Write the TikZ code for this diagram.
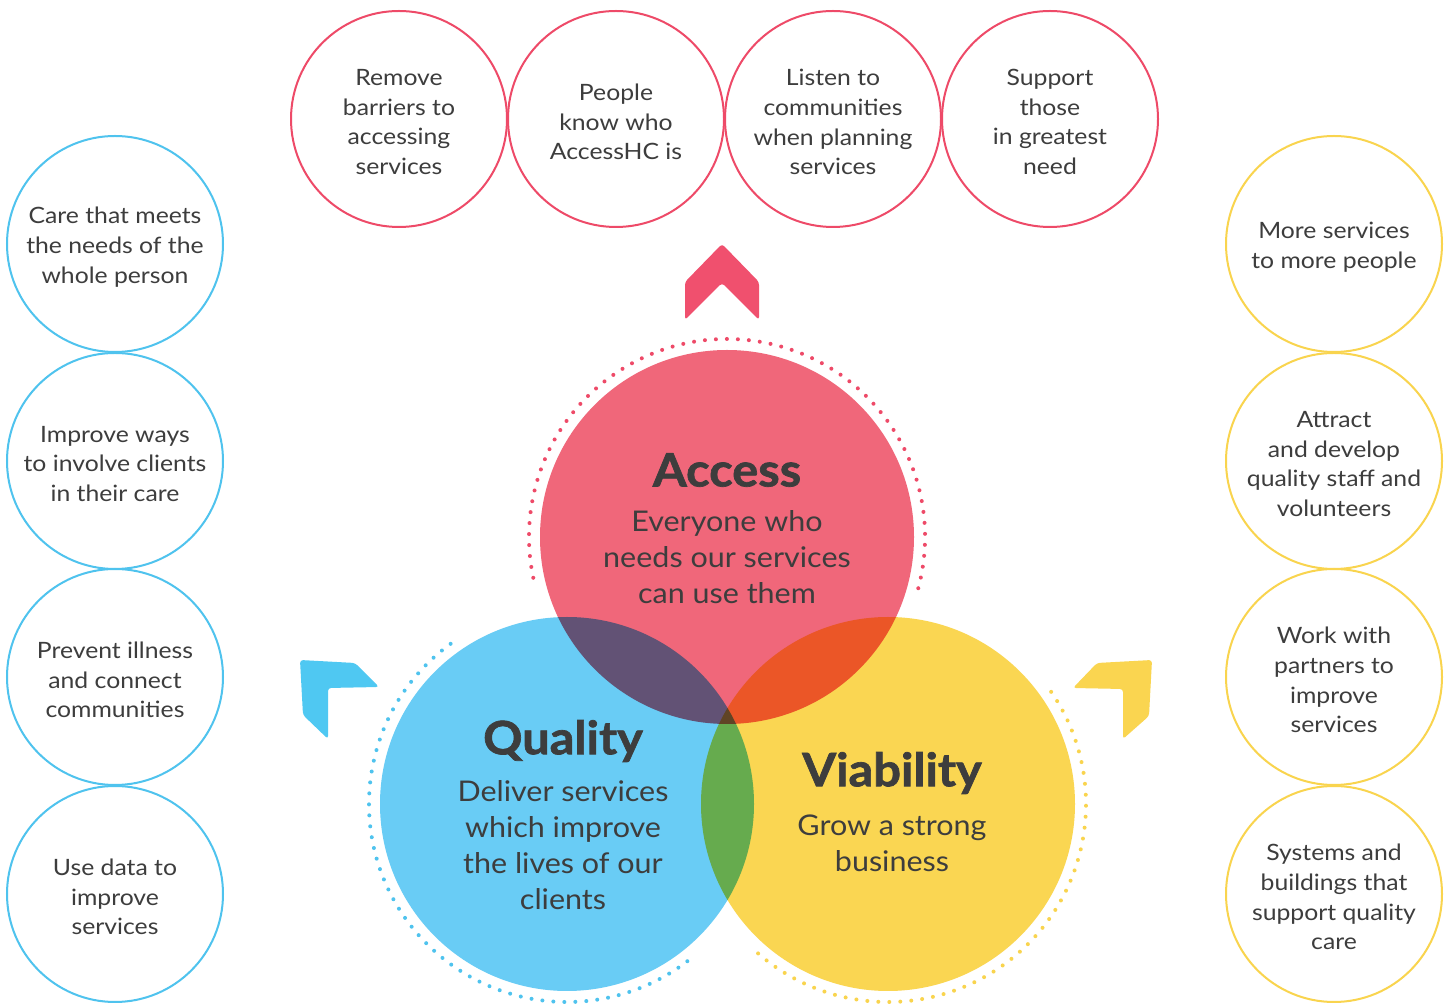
\documentclass[tikz,border=0pt]{standalone}
\usepackage{fontspec}
\setmainfont{Lato}
\newfontfamily\smallfont{Lato}[FakeStretch=1.1]
\newfontfamily\subfont{Lato}[FakeStretch=1.07]
\newfontfamily\titlefont{Lato}[FakeStretch=1.06, BoldFeatures={FakeBold=1.5}]
\definecolor{cred}{HTML}{F0677A}
\definecolor{cblue}{HTML}{69CCF5}
\definecolor{cyel}{HTML}{FAD652}
\definecolor{lred}{HTML}{EE4A68}
\definecolor{lblue}{HTML}{4FC3EE}
\definecolor{lyel}{HTML}{F9D44E}
\definecolor{chred}{HTML}{F0506E}
\definecolor{chblue}{HTML}{4FC8F2}
\definecolor{chyel}{HTML}{FAD550}
\definecolor{txt}{HTML}{3D3D3D}
\tikzset{
  bigc/.style={circle, minimum size=374pt, inner sep=0pt},
  smallc/.style={circle, minimum size=216pt, inner sep=0pt, line width=2pt},
  smalltxt/.style={align=center, text=txt, yshift=-3pt,
     font=\smallfont\fontsize{22.5}{29.8}\selectfont},
  title/.style={text=txt, font=\titlefont\bfseries\fontsize{46}{50}\selectfont},
  sub/.style={text=txt, align=center, font=\subfont\fontsize{28.5}{35.8}\selectfont},
  dots/.style={line width=4pt, line cap=round, dash pattern=on 0pt off 11pt},
  chev/.style={rounded corners=3pt}
}
\begin{document}
\begin{tikzpicture}[x=1pt,y=1pt]
\useasboundingbox (0,0) rectangle (1454,1004);
\fill[white] (0,0) rectangle (1454,1004);
% dotted arcs
\draw[dots, lred] ([shift={(-15:198pt)}]727,467) arc[start angle=-15, end angle=195, radius=198pt];
\draw[dots, lblue] ([shift={(126:198pt)}]567,200) arc[start angle=126, end angle=308, radius=198pt];
\draw[dots, lyel] ([shift={(-131:198pt)}]888,200) arc[start angle=-131, end angle=37.5, radius=198pt];
% main circles
\begin{scope}[blend group=multiply]
\node[bigc, fill=cred] (access) at (727,467) {};
\node[bigc, fill=cblue] (quality) at (567,200) {};
\node[bigc, fill=cyel] (viab) at (888,200) {};
\end{scope}
% main texts
\node[title] (accT) at (727,534) {Access};
\node[sub] (accS) at (727,447) {Everyone who\\needs our services\\can use them};
\node[title] (qualT) at (563,263) {Quality};
\node[sub] (qualS) at (563,159) {Deliver services\\which improve\\the lives of our\\clients};
\node[title] (viaT) at (892,231) {Viability};
\node[sub] (viaS) at (892,161) {Grow a strong\\business};
% chevrons
\fill[chred, chev] (722,760) -- (759,722) -- (759,684) -- (722,721) -- (685,684) -- (685,722) -- cycle;
\fill[chblue, chev] (300,344) -- (355,341) -- (379,317) -- (328,316) -- (328,265) -- (303,289) -- cycle;
\fill[chyel, chev] (1152,344) -- (1097,341) -- (1073,316) -- (1123,315) -- (1123,265) -- (1149,288) -- cycle;
% top circles
\node[smallc, draw=lred] (t1) at (399,885) {};
\node[smalltxt] (t1x) at (t1) {Remove\\barriers to\\accessing\\services};
\node[smallc, draw=lred] (t2) at (616,885) {};
\node[smalltxt] (t2x) at (t2) {People\\know who\\AccessHC is};
\node[smallc, draw=lred] (t3) at (833,885) {};
\node[smalltxt] (t3x) at (t3) {Listen to\\communities\\when planning\\services};
\node[smallc, draw=lred] (t4) at (1050,885) {};
\node[smalltxt] (t4x) at (t4) {Support\\those\\in greatest\\need};
% left circles
\node[smallc, draw=lblue] (l1) at (115,760) {};
\node[smalltxt] (l1x) at (l1) {Care that meets\\the needs of the\\whole person};
\node[smallc, draw=lblue] (l2) at (115,543) {};
\node[smalltxt] (l2x) at (l2) {Improve ways\\to involve clients\\in their care};
\node[smallc, draw=lblue] (l3) at (115,327) {};
\node[smalltxt] (l3x) at (l3) {Prevent illness\\and connect\\communities};
\node[smallc, draw=lblue] (l4) at (115,110) {};
\node[smalltxt] (l4x) at (l4) {Use data to\\improve\\services};
% right circles
\node[smallc, draw=lyel] (r1) at (1334,760) {};
\node[smalltxt] (r1x) at (r1) {More services\\to more people};
\node[smallc, draw=lyel] (r2) at (1334,543) {};
\node[smalltxt] (r2x) at (r2) {Attract\\and develop\\quality staff and\\volunteers};
\node[smallc, draw=lyel] (r3) at (1334,327) {};
\node[smalltxt] (r3x) at (r3) {Work with\\partners to\\improve\\services};
\node[smallc, draw=lyel] (r4) at (1334,110) {};
\node[smalltxt] (r4x) at (r4) {Systems and\\buildings that\\support quality\\care};
\end{tikzpicture}
\end{document}
